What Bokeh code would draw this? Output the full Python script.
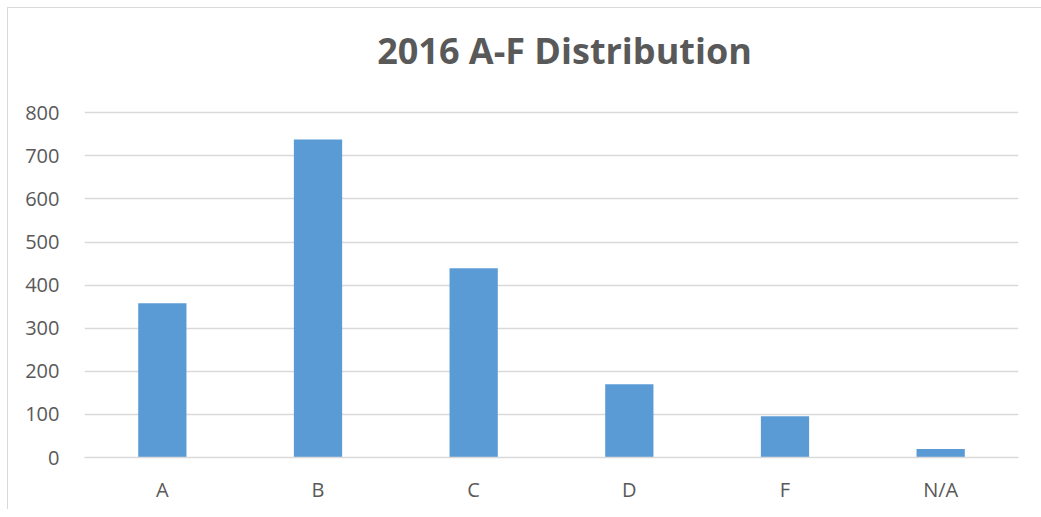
from bokeh.plotting import figure
from bokeh.models import ColumnDataSource, Range1d, FixedTicker, Label
from bokeh.embed import file_html
from bokeh.resources import INLINE

categories = ["A", "B", "C", "D", "F", "N/A"]
counts = [358, 738, 439, 170, 96, 20]
y_ticks = [0, 100, 200, 300, 400, 500, 600, 700, 800]
title_text = "2016 A-F Distribution"

src = ColumnDataSource(dict(cat=categories, val=counts))

frame_css = ("linear-gradient(#d9d9d9, #d9d9d9) 7px 7px / 100% 1px no-repeat, "
             "linear-gradient(#d9d9d9, #d9d9d9) 7px 7px / 1px 100% no-repeat, #ffffff")

# frame extends above the 800 gridline to leave room for the title inside it
p = figure(x_range=categories, y_range=Range1d(0, 1035),
           frame_width=934, frame_height=446,
           output_backend="svg", toolbar_location=None,
           min_border_left=84, min_border_right=23, min_border_top=11, min_border_bottom=52,
           styles={"background": frame_css})
p.border_fill_color = None
p.background_fill_color = None
p.outline_line_color = None
p.vbar(x="cat", top="val", width=0.31, source=src, fill_color="#5b9bd5", line_color=None)

title = Label(x=480, y=407, x_units="screen", y_units="screen", text=title_text,
              text_font="Open Sans", text_font_style="bold", text_font_size="36px",
              text_color="#595959", text_align="center", text_baseline="middle")
p.add_layout(title)

p.xgrid.grid_line_color = None
p.ygrid.grid_line_color = "#d9d9d9"
p.ygrid.grid_line_width = 1.3
p.yaxis.ticker = FixedTicker(ticks=y_ticks)
p.yaxis.axis_line_color = None
p.yaxis.major_tick_line_color = None
p.yaxis.minor_tick_line_color = None
p.xaxis.axis_line_color = "#d9d9d9"
p.xaxis.axis_line_width = 1.3
p.xaxis.major_tick_line_color = None
p.x_range.range_padding = 0
for ax in (p.xaxis, p.yaxis):
    ax.major_label_text_font = "Open Sans"
    ax.major_label_text_font_size = "20px"
    ax.major_label_text_color = "#595959"
p.yaxis.major_label_standoff = 19
p.xaxis.major_label_standoff = 12

open("out.html", "w").write(file_html(p, INLINE))
